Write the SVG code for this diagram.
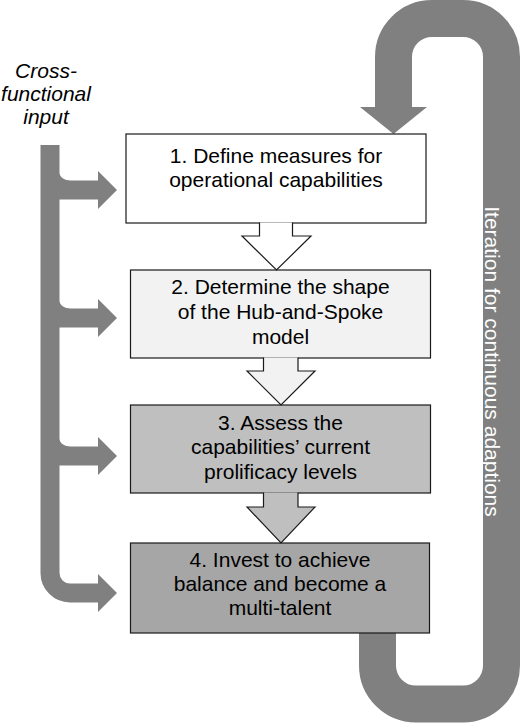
<svg xmlns="http://www.w3.org/2000/svg" width="520" height="723" viewBox="0 0 520 723">
<style>
.t{font-family:"Liberation Sans",Arial,sans-serif;font-size:21px;fill:#000;text-anchor:middle}
.it{font-style:italic}
.box{stroke:#1a1a1a;stroke-width:1.2}
.darr{stroke:#1a1a1a;stroke-width:1.2;stroke-linejoin:miter}
.g{fill:#808080}
</style>
<rect width="520" height="723" fill="#fff"/>
<g id="connectors">
  <!-- iteration loop -->
  <path d="M393.5,108 V57 A38.5,38.5 0 0 1 432,18.5 H463 A38.5,38.5 0 0 1 501.5,57 V665.5 A38.5,38.5 0 0 1 463,704 H416 A38.5,38.5 0 0 1 377.5,665.5 V620" fill="none" stroke="#808080" stroke-width="37"/>
  <polygon class="g" points="360,107 427,107 393.5,134"/>
  <text class="t" fill="#fff" style="fill:#fff" transform="translate(485,361.5) rotate(90)" x="0" y="0">Iteration for continuous adaptions</text>
  <!-- cross-functional input bracket -->
  <path d="M50,145 V573 A20,20 0 0 0 70,593 H99" fill="none" stroke="#808080" stroke-width="19"/>
  <path class="g" d="M58,168 Q59,180.5 71,180.5 H99 V199.5 H58 Z"/>
  <path class="g" d="M58,296 Q59,308.5 71,308.5 H99 V327.5 H58 Z"/>
  <path class="g" d="M58,434 Q59,446.5 71,446.5 H99 V465.5 H58 Z"/>
  <polygon class="g" points="98,171 117,190 98,209"/>
  <polygon class="g" points="98,299 117,318 98,337"/>
  <polygon class="g" points="98,437 117,456 98,475"/>
  <polygon class="g" points="98,574 117,593 98,612"/>
</g>
<g id="label-input">
  <text class="t it" x="46" y="78">Cross-</text>
  <text class="t it" x="46" y="101">functional</text>
  <text class="t it" x="46" y="124">input</text>
</g>
<g id="node1">
  <rect class="box" x="126" y="134" width="300" height="89" fill="#ffffff"/>
  <text class="t" x="276" y="163">1. Define measures for</text>
  <text class="t" x="276" y="187">operational capabilities</text>
</g>
<g id="node2">
  <rect class="box" x="130.5" y="270" width="300" height="88" fill="#f2f2f2"/>
  <text class="t" x="280.5" y="294">2. Determine the shape</text>
  <text class="t" x="280.5" y="319">of the Hub-and-Spoke</text>
  <text class="t" x="280.5" y="344">model</text>
</g>
<g id="node3">
  <rect class="box" x="130.5" y="405" width="300" height="88" fill="#bfbfbf"/>
  <text class="t" x="280.5" y="430">3. Assess the</text>
  <text class="t" x="280.5" y="454">capabilities’ current</text>
  <text class="t" x="280.5" y="479">prolificacy levels</text>
</g>
<g id="node4">
  <rect class="box" x="130.5" y="543" width="299" height="90" fill="#a6a6a6"/>
  <text class="t" x="280" y="567">4. Invest to achieve</text>
  <text class="t" x="280" y="591">balance and become a</text>
  <text class="t" x="280" y="615">multi-talent</text>
</g>
<g id="flow-arrows">
  <path class="darr" fill="#ffffff" d="M259.5,222.4 V236 H242 L276.5,270 L311,236 H292.5 V222.4"/>
  <path class="darr" fill="#f2f2f2" d="M263.5,357.4 V371 H247 L281,405 L315,371 H298 V357.4"/>
  <path class="darr" fill="#bfbfbf" d="M263.5,492.4 V507 H247 L281,543 L315,507 H298 V492.4"/>
</g>
</svg>
